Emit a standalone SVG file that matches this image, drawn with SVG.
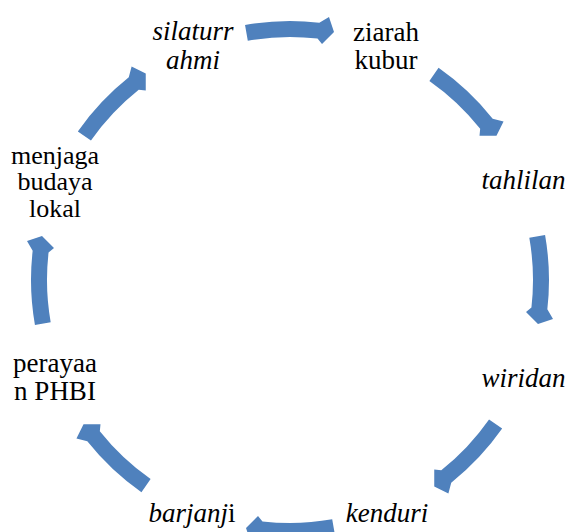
<svg xmlns="http://www.w3.org/2000/svg" xmlns:xlink="http://www.w3.org/1999/xlink" width="572" height="532" viewBox="0 0 572 532">
<style>
text{font-family:'Liberation Serif','Times New Roman',serif;font-size:27px;fill:#000;text-anchor:middle}
.i{font-style:italic}
.s{font-size:26px}
.arr{fill:#4F81BD}
</style>
<defs>
<path id="arc" class="arr" d="M245.03,24.93 A259,259 0 0 1 319.32,22.67 L329,17 L334,32 L322,44 L317.51,38.56 A243,243 0 0 0 247.80,40.69 Z"/>
</defs>
<rect width="572" height="532" fill="#fff"/>
<g id="connectors">
<use xlink:href="#arc"/>
<use xlink:href="#arc" transform="rotate(45 290 280)"/>
<use xlink:href="#arc" transform="rotate(90 290 280)"/>
<use xlink:href="#arc" transform="rotate(135 290 280)"/>
<use xlink:href="#arc" transform="rotate(180 290 280)"/>
<use xlink:href="#arc" transform="rotate(225 290 280)"/>
<use xlink:href="#arc" transform="rotate(270 290 280)"/>
<use xlink:href="#arc" transform="rotate(315 290 280)"/>
</g>
<g id="silaturrahmi"><text class="i" x="193" y="40">silaturr</text><text class="i" x="193" y="69">ahmi</text></g>
<g id="ziarah-kubur"><text x="386" y="40.5">ziarah</text><text x="386" y="69">kubur</text></g>
<g id="tahlilan"><text class="i" x="523.5" y="189">tahlilan</text></g>
<g id="wiridan"><text class="i" x="523.5" y="386.5">wiridan</text></g>
<g id="kenduri"><text class="i" x="387" y="522">kenduri</text></g>
<g id="barjanji"><text x="192" y="522"><tspan class="i">barjanj</tspan>i</text></g>
<g id="perayaan-phbi"><text x="55" y="371.5">perayaa</text><text x="55" y="400">n PHBI</text></g>
<g id="menjaga-budaya-lokal"><text class="s" x="55" y="163.5">menjaga</text><text class="s" x="55" y="190">budaya</text><text class="s" x="55" y="216.5">lokal</text></g>
</svg>
